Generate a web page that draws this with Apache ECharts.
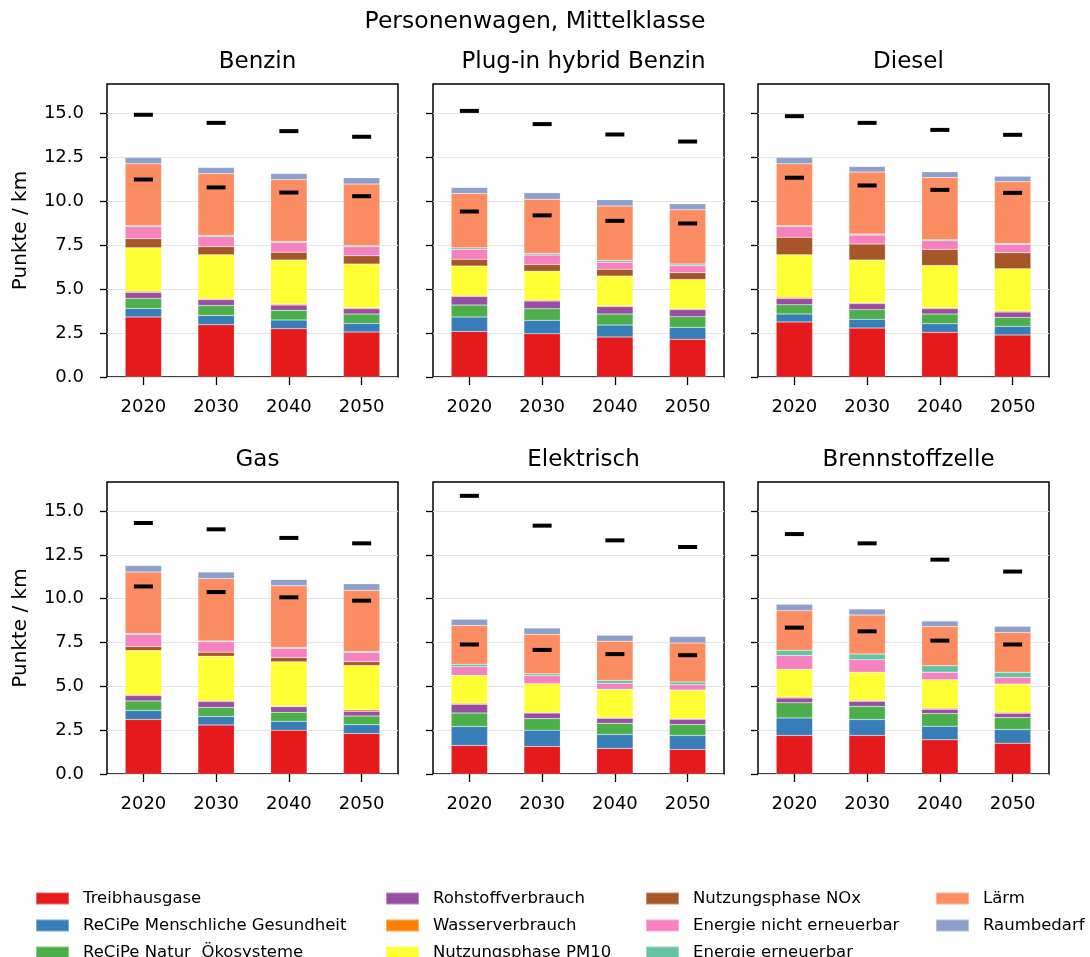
<!DOCTYPE html>
<html>
<head>
<meta charset="utf-8">
<script src="https://cdn.jsdelivr.net/npm/echarts@6/dist/echarts.min.js"></script>
<style>
  html, body { margin: 0; padding: 0; background: #fff; }
  #chart { width: 1090px; height: 957px; }
</style>
</head>
<body>
<div id="chart"></div>
<script>
// Kategorien
const jahre = ['2020', '2030', '2040', '2050'];
const antriebe = ['Benzin', 'Plug-in hybrid Benzin', 'Diesel', 'Gas', 'Elektrisch', 'Brennstoffzelle'];
const yTicks = [0, 2.5, 5, 7.5, 10, 12.5, 15];

// Werte je Komponente: 6 Antriebe x 4 Jahre (Reihenfolge wie antriebe)
const treibhausgase = [3.41, 2.97, 2.75, 2.56, 2.59, 2.46, 2.27, 2.14, 3.13, 2.78, 2.54, 2.39, 3.11, 2.80, 2.50, 2.31, 1.63, 1.57, 1.46, 1.40, 2.20, 2.20, 1.95, 1.76];
const menschGesundheit = [0.49, 0.53, 0.49, 0.49, 0.82, 0.76, 0.68, 0.68, 0.45, 0.50, 0.49, 0.49, 0.51, 0.48, 0.51, 0.51, 1.08, 0.93, 0.79, 0.80, 1.00, 0.91, 0.78, 0.78];
const naturOeko = [0.57, 0.57, 0.55, 0.53, 0.68, 0.66, 0.63, 0.61, 0.53, 0.55, 0.55, 0.51, 0.55, 0.51, 0.51, 0.49, 0.77, 0.66, 0.65, 0.62, 0.87, 0.75, 0.72, 0.68];
const rohstoff = [0.34, 0.32, 0.30, 0.30, 0.49, 0.44, 0.42, 0.40, 0.36, 0.34, 0.30, 0.30, 0.30, 0.34, 0.32, 0.27, 0.50, 0.32, 0.28, 0.31, 0.27, 0.29, 0.24, 0.25];
const wasser = [0.06, 0.06, 0.06, 0.06, 0.06, 0.06, 0.05, 0.05, 0.06, 0.05, 0.06, 0.06, 0.06, 0.06, 0.04, 0.08, 0.05, 0.04, 0.04, 0.03, 0.05, 0.05, 0.06, 0.05];
const pm10 = [2.48, 2.50, 2.50, 2.48, 1.67, 1.64, 1.69, 1.67, 2.42, 2.43, 2.40, 2.41, 2.52, 2.53, 2.52, 2.53, 1.60, 1.63, 1.61, 1.63, 1.59, 1.61, 1.63, 1.61];
const nox = [0.51, 0.46, 0.45, 0.47, 0.38, 0.38, 0.38, 0.38, 0.99, 0.91, 0.91, 0.90, 0.22, 0.23, 0.23, 0.21, 0, 0, 0, 0, 0, 0, 0, 0];
const energieNicht = [0.68, 0.56, 0.55, 0.52, 0.58, 0.53, 0.41, 0.41, 0.60, 0.51, 0.50, 0.48, 0.68, 0.59, 0.55, 0.53, 0.49, 0.46, 0.34, 0.30, 0.78, 0.71, 0.43, 0.38];
const energieErn = [0.06, 0.08, 0.06, 0.05, 0.08, 0.10, 0.10, 0.08, 0.06, 0.06, 0.05, 0.05, 0.06, 0.05, 0.05, 0.06, 0.14, 0.11, 0.17, 0.16, 0.30, 0.32, 0.36, 0.30];
const laerm = [3.52, 3.52, 3.52, 3.51, 3.09, 3.08, 3.09, 3.09, 3.52, 3.52, 3.54, 3.51, 3.51, 3.55, 3.51, 3.50, 2.21, 2.25, 2.24, 2.23, 2.26, 2.23, 2.24, 2.26];
const raum = [0.36, 0.34, 0.34, 0.36, 0.34, 0.36, 0.36, 0.34, 0.36, 0.32, 0.33, 0.32, 0.37, 0.38, 0.36, 0.36, 0.36, 0.36, 0.34, 0.36, 0.36, 0.34, 0.32, 0.36];

// Striche oberhalb / unterhalb
const oben = [14.91, 14.45, 13.98, 13.66, 15.13, 14.38, 13.79, 13.39, 14.83, 14.45, 14.05, 13.77, 14.32, 13.96, 13.47, 13.16, 15.87, 14.17, 13.33, 12.95, 13.69, 13.16, 12.23, 11.55];
const unten = [11.23, 10.78, 10.49, 10.28, 9.41, 9.19, 8.88, 8.73, 11.33, 10.89, 10.64, 10.47, 10.70, 10.38, 10.08, 9.89, 7.39, 7.08, 6.84, 6.78, 8.35, 8.14, 7.61, 7.39];

const komponenten = ['Treibhausgase', 'ReCiPe Menschliche Gesundheit', 'ReCiPe Natur  Ökosysteme', 'Rohstoffverbrauch',
  'Wasserverbrauch', 'Nutzungsphase PM10', 'Nutzungsphase NOx', 'Energie nicht erneuerbar', 'Energie erneuerbar', 'Lärm', 'Raumbedarf'];
const werte = [treibhausgase, menschGesundheit, naturOeko, rohstoff, wasser, pm10, nox, energieNicht, energieErn, laerm, raum];
const farben = ['#e41a1c', '#377eb8', '#4daf4a', '#984ea3', '#ff7f00', '#ffff33', '#a65628', '#f781bf', '#66c2a5', '#fc8d62', '#8da0cb'];

const font = 'DejaVu Sans';
const yMax = 16.66;
const lefts = [107, 433, 758];
const tops = [84, 482];
const W = 291, H = 293;

let grids = [], xAxes = [], yAxes = [], titles = [], series = [];

titles.push({
  text: 'Personenwagen, Mittelklasse', left: 530, top: 5, textAlign: 'center',
  textStyle: { fontFamily: font, fontSize: 23.5, fontWeight: 'normal', color: '#000' }
});

antriebe.forEach((name, i) => {
  const col = i % 3, row = Math.floor(i / 3);
  grids.push({
    left: lefts[col], top: tops[row], width: W, height: H - row,
    show: true, borderColor: '#000', borderWidth: 1.5, backgroundColor: 'transparent'
  });
  titles.push({
    text: name, left: lefts[col] + W / 2, top: tops[row] - 38, textAlign: 'center',
    textStyle: { fontFamily: font, fontSize: 23, fontWeight: 'normal', color: '#000' }
  });
  xAxes.push({
    type: 'category', gridIndex: i, data: jahre,
    axisLine: { show: false },
    axisTick: { show: true, alignWithLabel: true, length: 8, lineStyle: { color: '#000', width: 1.3 } },
    axisLabel: { fontFamily: font, fontSize: 18, color: '#000', margin: 21 }
  });
  yAxes.push({
    type: 'value', gridIndex: i, min: 0, max: yMax, interval: 2.5,
    name: col === 0 ? 'Punkte / km' : '', nameLocation: 'middle', nameGap: 76,
    nameTextStyle: { fontFamily: font, fontSize: 20, color: '#000' },
    axisLine: { show: false },
    axisTick: { show: true, length: 7, customValues: yTicks, lineStyle: { color: '#000', width: 1.3 } },
    axisLabel: {
      show: col === 0, customValues: yTicks, fontFamily: font, fontSize: 18, color: '#000', margin: 23,
      formatter: v => v.toFixed(1)
    },
    splitLine: { show: true, lineStyle: { color: '#e5e5e5', width: 1 } }
  });
  komponenten.forEach((k, j) => {
    series.push({
      name: k, type: 'bar', stack: 'p' + i, xAxisIndex: i, yAxisIndex: i,
      barWidth: '50%', data: werte[j].slice(i * 4, i * 4 + 4),
      itemStyle: { color: farben[j], borderColor: 'rgba(255,255,255,0.35)', borderWidth: 0.5 },
      emphasis: { disabled: true }
    });
  });
  [oben, unten].forEach(arr => {
    series.push({
      type: 'scatter', xAxisIndex: i, yAxisIndex: i, z: 5,
      symbol: 'rect', symbolSize: [19, 4], itemStyle: { color: '#000', opacity: 1 },
      data: arr.slice(i * 4, i * 4 + 4), silent: true
    });
  });
});

// Legende in vier Spalten
const spalten = [[0, 1, 2], [3, 4, 5], [6, 7, 8], [9, 10]];
const spaltenLeft = [35, 385, 645, 935];
const legends = spalten.map((idx, c) => ({
  orient: 'vertical', left: spaltenLeft[c], top: 890, height: 100, padding: 0,
  itemWidth: 33, itemHeight: 12, itemGap: 10, icon: 'rect',
  data: idx.map(j => komponenten[j]),
  textStyle: { fontFamily: font, fontSize: 16.5, lineHeight: 16, color: '#000', padding: [0, 0, 0, 9] }
}));

const chart = echarts.init(document.getElementById('chart'));
chart.setOption({
  animation: false,
  backgroundColor: '#fff',
  title: titles,
  legend: legends,
  grid: grids,
  xAxis: xAxes,
  yAxis: yAxes,
  series: series
});
</script>
</body>
</html>
